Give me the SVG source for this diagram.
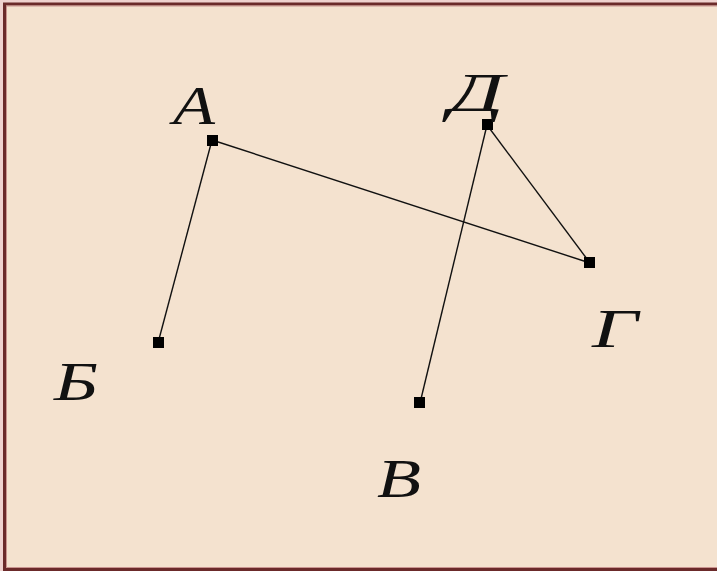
<svg xmlns="http://www.w3.org/2000/svg" width="717" height="571" viewBox="0 0 717 571">
<style>
.lbl{font-family:"Liberation Serif","DejaVu Serif",serif;font-style:italic;font-size:55px;fill:#111}
.pt{fill:#000}
.edge{stroke:#111;stroke-width:1.4;fill:none}
</style>
<rect x="0" y="0" width="717" height="571" fill="#efd2cf"/>
<rect x="4.5" y="4" width="720" height="565.5" fill="#f4e2cf" stroke="#6b2a2a" stroke-width="3"/>
<rect x="6.5" y="6" width="720" height="561.5" fill="none" stroke="#c08080" stroke-width="0.8"/>
<g id="connectors">
<line class="edge" x1="212" y1="140" x2="158" y2="343"/>
<line class="edge" x1="212" y1="140" x2="590" y2="263"/>
<line class="edge" x1="487" y1="125" x2="590" y2="263"/>
<line class="edge" x1="487" y1="125" x2="420" y2="403"/>
</g>
<g id="A"><rect class="pt" x="207" y="135" width="11" height="11"/><text class="lbl" x="173" y="124" textLength="42" lengthAdjust="spacingAndGlyphs">А</text></g>
<g id="D"><rect class="pt" x="482" y="119" width="11" height="11"/><text class="lbl" x="449" y="111" textLength="55" lengthAdjust="spacingAndGlyphs">Д</text></g>
<g id="G"><rect class="pt" x="584" y="257" width="11" height="11"/><text class="lbl" x="592" y="347" textLength="46" lengthAdjust="spacingAndGlyphs">Г</text></g>
<g id="B1"><rect class="pt" x="153" y="337" width="11" height="11"/><text class="lbl" x="54" y="400" textLength="44" lengthAdjust="spacingAndGlyphs">Б</text></g>
<g id="V"><rect class="pt" x="414" y="397" width="11" height="11"/><text class="lbl" x="377" y="497" textLength="44" lengthAdjust="spacingAndGlyphs">В</text></g>
</svg>
